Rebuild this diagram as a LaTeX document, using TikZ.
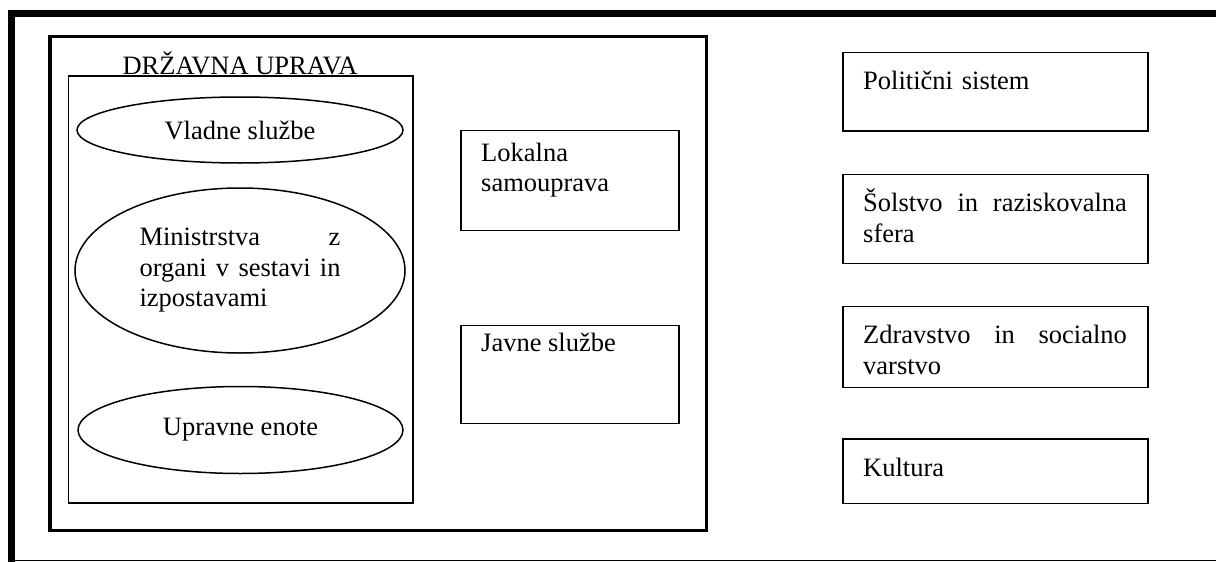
\documentclass[tikz,border=0pt]{standalone}
\usepackage{fontspec}
\setmainfont{Liberation Serif}
\usetikzlibrary{shapes.geometric}
\setlength{\parindent}{0pt}

\tikzset{
	okvir/.style={draw, line width=1.5pt, inner sep=0pt, outer sep=0pt, anchor=north west},
	elipsa/.style={draw, ellipse, line width=1.5pt, inner sep=0pt},
	napis/.style={anchor=north west, inner sep=0pt, align=left, execute at begin node={\rule{0pt}{25pt}}},
}

\begin{document}
\begin{tikzpicture}[x=1pt, y=-1pt, font=\fontsize{26.5}{30.5}\selectfont]
	\useasboundingbox (0,0) rectangle (1216,562);

	\draw[line width=7pt] (11,562) -- (11,13) -- (1216,13);
	\draw[line width=1.5pt] (11,560.5) -- (1216,560.5);

	\node[okvir, line width=3.3pt, minimum width=656.5pt, minimum height=493.8pt] (uprava) at (50,36.7) {};
	\node[okvir, minimum width=344.5pt, minimum height=427pt] (organi) at (68.5,76) {};
	\node[anchor=base, inner sep=0pt] (naslov) at (240,74) {DRŽAVNA UPRAVA};

	\node[elipsa, minimum width=326pt, minimum height=66pt] (vlada) at (240,130) {Vladne službe};
	\node[elipsa, minimum width=330pt, minimum height=165pt, text width=201pt, align=left] (ministrstva) at (240,270.5) {Ministrstva\hfill z\\organi\hfill v\hfill sestavi\hfill in\\izpostavami};
	\node[elipsa, minimum width=325pt, minimum height=87pt] (enote) at (240.5,430) {Upravne enote};

	\node[okvir, minimum width=218pt, minimum height=100pt] (lokalna) at (461,130.7) {};
	\node[napis] (lokalnanapis) at ([shift={(20,12)}]lokalna.north west) {Lokalna\\samouprava};
	\node[okvir, minimum width=218pt, minimum height=97.6pt] (javne) at (461,325.7) {};
	\node[napis] (javnenapis) at ([shift={(20,1)}]javne.north west) {Javne službe};

	\foreach \besedilo/\yy/\hh [count=\i] in {{Politični sistem}/52.3/78.7, {Šolstvo\hfill in\hfill raziskovalna\\sfera}/174.3/89, {Zdravstvo\hfill in\hfill socialno\\varstvo}/306.7/80.6, {Kultura}/439/64.3}{
		\node[okvir, minimum width=305pt, minimum height=\hh pt] (sektor\i) at (843,\yy) {};
		\node[napis, text width=263.7pt] (napis\i) at ([shift={(20,12)}]sektor\i.north west) {\besedilo};
	}
\end{tikzpicture}
\end{document}
